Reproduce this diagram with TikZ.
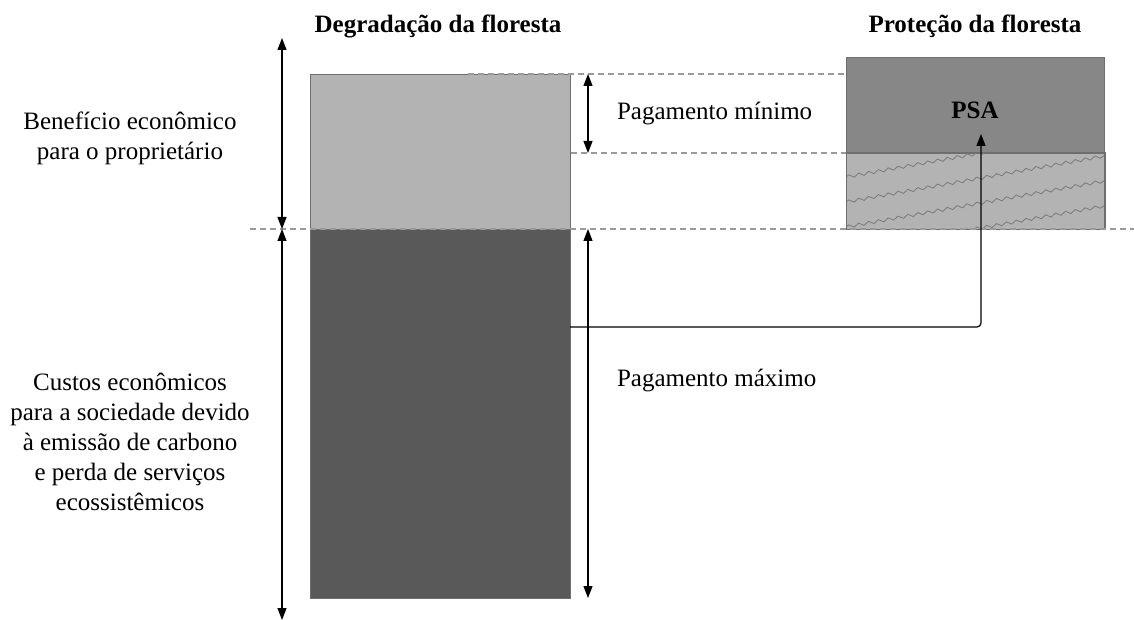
\documentclass[tikz,border=0pt]{standalone}
\usepackage{fontspec}
\setmainfont{Liberation Serif}
\usepackage{tikz}
\usetikzlibrary{arrows.meta,positioning,calc,decorations.pathmorphing}
\definecolor{BarLight}{HTML}{B3B3B3}
\definecolor{BarDark}{HTML}{595959}
\definecolor{BarMid}{HTML}{878787}
\definecolor{BarEdge}{HTML}{6E6E6E}
\definecolor{Guide}{HTML}{9A9A9A}
\definecolor{Wave}{HTML}{7A7A7A}

\begin{document}
\begin{tikzpicture}[
  x=0.5pt,y=-0.5pt,
  font=\fontsize{12.5}{15}\selectfont,
  bar/.style={draw=BarEdge,line width=0.5pt,inner sep=0pt,anchor=north west,minimum width=130pt},
  title/.style={font=\fontsize{12.5}{15}\selectfont\bfseries},
  label/.style={align=center},
  guide/.style={draw=Guide,line width=0.7pt,dash pattern=on 3pt off 2pt},
  span/.style={{Triangle[length=6pt,width=4.5pt]}-{Triangle[length=6pt,width=4.5pt]},line width=0.6pt},
  link/.style={-{Triangle[length=6pt,width=4.5pt]},line width=0.6pt,rounded corners=2pt}
]
  \useasboundingbox (0,0) rectangle (1134,620);
  % bars
  \node[bar,fill=BarLight,minimum height=77.5pt] (benefit) at (310,74) {};
  \node[bar,fill=BarDark,minimum height=184.5pt] (cost) at (310,229) {};
  \node[bar,fill=BarMid,minimum width=129pt,minimum height=48pt] (psa) at (846,57) {};
  \node[bar,fill=BarLight,minimum width=129pt,minimum height=38pt] (owner) at (846,153) {};
  \begin{scope}
    \clip (owner.north west) rectangle (owner.south east);
    \foreach \y in {152,177,202,227,252}
      \draw[Wave,line width=0.4pt,decorate,decoration={snake,amplitude=0.8pt,segment length=5pt}]
        (846,\y) -- (1104,\y-46);
  \end{scope}
  \draw[draw=BarEdge,line width=0.5pt] (owner.north west) rectangle (owner.south east);
  \node[title] (psalabel) at (975,110) {PSA};

  % guides
  \draw[guide] (468,74) -- (psa.south west |- 0,74);
  \draw[guide] (benefit.east |- 0,153) -- (owner.north west);
  \draw[guide] (250,229) -- (1134,229);

  % titles and labels
  \node[title] (degr) at (438,26) {Degradação da floresta};
  \node[title] (prot) at (975,26) {Proteção da floresta};
  \node[label] (benlabel) at (130,138) {Benefício econômico\\para o proprietário};
  \node[label] (costlabel) at (130,442) {Custos econômicos\\para a sociedade devido\\à emissão de carbono\\e perda de serviços\\ecossistêmicos};
  \node[anchor=west] (minlabel) at (610,114) {Pagamento mínimo};
  \node[anchor=west] (maxlabel) at (610,381) {Pagamento máximo};

  % spans
  \coordinate (ltop) at (282,38);
  \coordinate (lmid) at (282,229);
  \coordinate (lbot) at (282,620);
  \draw[span] (ltop) -- (lmid);
  \draw[span] (lmid) -- (lbot);
  \coordinate (mtop) at (588,74);
  \coordinate (mbot) at (588,153);
  \draw[span] (mtop) -- (mbot);
  \coordinate (xtop) at (588,229);
  \coordinate (xbot) at (588,598);
  \draw[span] (xtop) -- (xbot);

  % payment link
  \coordinate (src) at (570,327);
  \coordinate (tip) at (981,134);
  \draw[link] (src) -| (tip);
\end{tikzpicture}
\end{document}
